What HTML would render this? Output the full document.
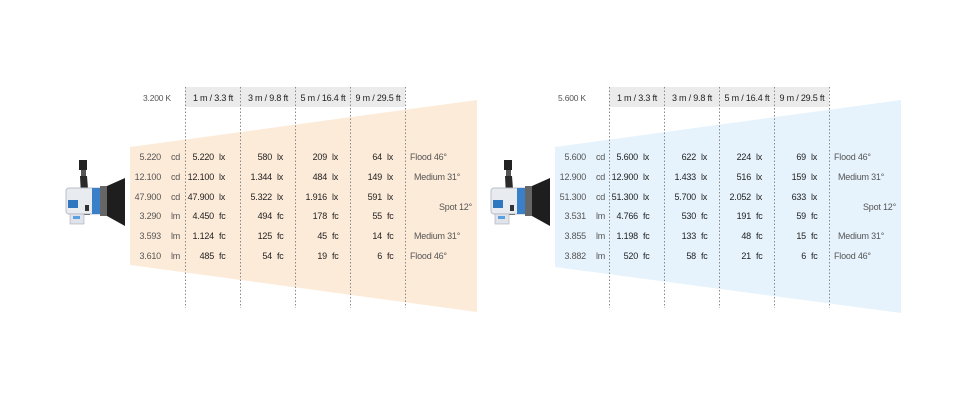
<!DOCTYPE html>
<html><head><meta charset="utf-8"><style>
html,body{margin:0;padding:0;background:#fff;width:960px;height:400px;overflow:hidden}
svg{display:block}
text{font-family:"Liberation Sans",sans-serif;font-size:9px;letter-spacing:-0.2px;fill:#222}
.g{fill:#555}
</style></head><body>
<svg width="960" height="400" viewBox="0 0 960 400" xmlns="http://www.w3.org/2000/svg">
<defs>
<g id="lamp">
  <rect x="79" y="160" width="8" height="10" fill="#222"/>
  <rect x="81" y="170" width="5" height="6" fill="#555"/>
  <path d="M80 176 L87 176 L90 215 L82 215 Z" fill="#2a2a2a"/>
  <rect x="66" y="188" width="40" height="26" rx="3" fill="#e8ecf0" stroke="#b8c0c8" stroke-width="1"/>
  <rect x="68" y="200" width="10" height="8" fill="#2f78c0"/>
  <rect x="92" y="188" width="8" height="26" fill="#3a80c8"/>
  <rect x="100" y="186" width="7" height="30" fill="#666"/>
  <path d="M107 186 L125 178 L125 226 L107 216 Z" fill="#1e1e1e"/>
  <rect x="70" y="214" width="14" height="10" fill="#dfe4ea" stroke="#aab" stroke-width="0.6"/>
  <rect x="73" y="216" width="7" height="3" fill="#5aa0e0"/>
  <rect x="85" y="205" width="4" height="6" fill="#333"/>
</g>
</defs>

<!-- LEFT PANEL -->
<g>
  <polygon points="130,147 477,100 477,312 130,265" fill="#fdebd9"/>
  <rect x="185" y="87" width="220" height="20" fill="#ebebeb"/>
  <g stroke="#888" stroke-width="1" stroke-dasharray="1.5,2">
    <line x1="185.5" y1="87" x2="185.5" y2="308"/><line x1="240.5" y1="87" x2="240.5" y2="308"/>
    <line x1="295.5" y1="87" x2="295.5" y2="308"/><line x1="350.5" y1="87" x2="350.5" y2="308"/>
    <line x1="405.5" y1="87" x2="405.5" y2="308"/>
  </g>
  <use href="#lamp"/>
  <text x="143" y="101" class="g" style="font-size:8.5px">3.200 K</text>
  <g text-anchor="middle"><text x="213" y="101">1 m / 3.3 ft</text><text x="268" y="101">3 m / 9.8 ft</text><text x="323" y="101">5 m / 16.4 ft</text><text x="378" y="101">9 m / 29.5 ft</text></g>
  <g text-anchor="end">
    <text x="161" y="160" class="g">5.220</text><text x="161" y="180" class="g">12.100</text><text x="161" y="200" class="g">47.900</text><text x="161" y="219" class="g">3.290</text><text x="161" y="239" class="g">3.593</text><text x="161" y="259" class="g">3.610</text>
  </g>
  <g><text x="171" y="160" class="g">cd</text><text x="171" y="180" class="g">cd</text><text x="171" y="200" class="g">cd</text><text x="171" y="219" class="g">lm</text><text x="171" y="239" class="g">lm</text><text x="171" y="259" class="g">lm</text></g>
  <g text-anchor="end">
    <text x="214" y="160">5.220</text><text x="214" y="180">12.100</text><text x="214" y="200">47.900</text><text x="214" y="219">4.450</text><text x="214" y="239">1.124</text><text x="214" y="259">485</text>
    <text x="272" y="160">580</text><text x="272" y="180">1.344</text><text x="272" y="200">5.322</text><text x="272" y="219">494</text><text x="272" y="239">125</text><text x="272" y="259">54</text>
    <text x="327" y="160">209</text><text x="327" y="180">484</text><text x="327" y="200">1.916</text><text x="327" y="219">178</text><text x="327" y="239">45</text><text x="327" y="259">19</text>
    <text x="382" y="160">64</text><text x="382" y="180">149</text><text x="382" y="200">591</text><text x="382" y="219">55</text><text x="382" y="239">14</text><text x="382" y="259">6</text>
  </g>
  <g>
    <text x="219" y="160">lx</text><text x="219" y="180">lx</text><text x="219" y="200">lx</text><text x="219" y="219">fc</text><text x="219" y="239">fc</text><text x="219" y="259">fc</text>
    <text x="277" y="160">lx</text><text x="277" y="180">lx</text><text x="277" y="200">lx</text><text x="277" y="219">fc</text><text x="277" y="239">fc</text><text x="277" y="259">fc</text>
    <text x="332" y="160">lx</text><text x="332" y="180">lx</text><text x="332" y="200">lx</text><text x="332" y="219">fc</text><text x="332" y="239">fc</text><text x="332" y="259">fc</text>
    <text x="387" y="160">lx</text><text x="387" y="180">lx</text><text x="387" y="200">lx</text><text x="387" y="219">fc</text><text x="387" y="239">fc</text><text x="387" y="259">fc</text>
  </g>
  <g>
    <text x="410" y="160" class="g">Flood  46°</text><text x="414" y="180" class="g">Medium  31°</text><text x="472" y="210" text-anchor="end" class="g">Spot  12°</text><text x="414" y="239" class="g">Medium  31°</text><text x="410" y="259" class="g">Flood  46°</text>
  </g>
</g>

<!-- RIGHT PANEL -->
<g>
  <polygon points="555,147 901,100 901,313 555,267" fill="#e6f3fc"/>
  <rect x="609" y="87" width="220" height="20" fill="#ebebeb"/>
  <g stroke="#888" stroke-width="1" stroke-dasharray="1.5,2">
    <line x1="609.5" y1="87" x2="609.5" y2="308"/><line x1="664.5" y1="87" x2="664.5" y2="308"/>
    <line x1="719.5" y1="87" x2="719.5" y2="308"/><line x1="774.5" y1="87" x2="774.5" y2="308"/>
    <line x1="829.5" y1="87" x2="829.5" y2="308"/>
  </g>
  <use href="#lamp" transform="translate(425,0)"/>
  <text x="558" y="101" class="g" style="font-size:8.5px">5.600 K</text>
  <g text-anchor="middle"><text x="637" y="101">1 m / 3.3 ft</text><text x="692" y="101">3 m / 9.8 ft</text><text x="747" y="101">5 m / 16.4 ft</text><text x="802" y="101">9 m / 29.5 ft</text></g>
  <g text-anchor="end">
    <text x="586" y="160" class="g">5.600</text><text x="586" y="180" class="g">12.900</text><text x="586" y="200" class="g">51.300</text><text x="586" y="219" class="g">3.531</text><text x="586" y="239" class="g">3.855</text><text x="586" y="259" class="g">3.882</text>
  </g>
  <g><text x="596" y="160" class="g">cd</text><text x="596" y="180" class="g">cd</text><text x="596" y="200" class="g">cd</text><text x="596" y="219" class="g">lm</text><text x="596" y="239" class="g">lm</text><text x="596" y="259" class="g">lm</text></g>
  <g text-anchor="end">
    <text x="638" y="160">5.600</text><text x="638" y="180">12.900</text><text x="638" y="200">51.300</text><text x="638" y="219">4.766</text><text x="638" y="239">1.198</text><text x="638" y="259">520</text>
    <text x="696" y="160">622</text><text x="696" y="180">1.433</text><text x="696" y="200">5.700</text><text x="696" y="219">530</text><text x="696" y="239">133</text><text x="696" y="259">58</text>
    <text x="751" y="160">224</text><text x="751" y="180">516</text><text x="751" y="200">2.052</text><text x="751" y="219">191</text><text x="751" y="239">48</text><text x="751" y="259">21</text>
    <text x="806" y="160">69</text><text x="806" y="180">159</text><text x="806" y="200">633</text><text x="806" y="219">59</text><text x="806" y="239">15</text><text x="806" y="259">6</text>
  </g>
  <g>
    <text x="643" y="160">lx</text><text x="643" y="180">lx</text><text x="643" y="200">lx</text><text x="643" y="219">fc</text><text x="643" y="239">fc</text><text x="643" y="259">fc</text>
    <text x="701" y="160">lx</text><text x="701" y="180">lx</text><text x="701" y="200">lx</text><text x="701" y="219">fc</text><text x="701" y="239">fc</text><text x="701" y="259">fc</text>
    <text x="756" y="160">lx</text><text x="756" y="180">lx</text><text x="756" y="200">lx</text><text x="756" y="219">fc</text><text x="756" y="239">fc</text><text x="756" y="259">fc</text>
    <text x="811" y="160">lx</text><text x="811" y="180">lx</text><text x="811" y="200">lx</text><text x="811" y="219">fc</text><text x="811" y="239">fc</text><text x="811" y="259">fc</text>
  </g>
  <g>
    <text x="834" y="160" class="g">Flood  46°</text><text x="838" y="180" class="g">Medium  31°</text><text x="896" y="210" text-anchor="end" class="g">Spot  12°</text><text x="838" y="239" class="g">Medium  31°</text><text x="834" y="259" class="g">Flood  46°</text>
  </g>
</g>
</svg>
</body></html>
